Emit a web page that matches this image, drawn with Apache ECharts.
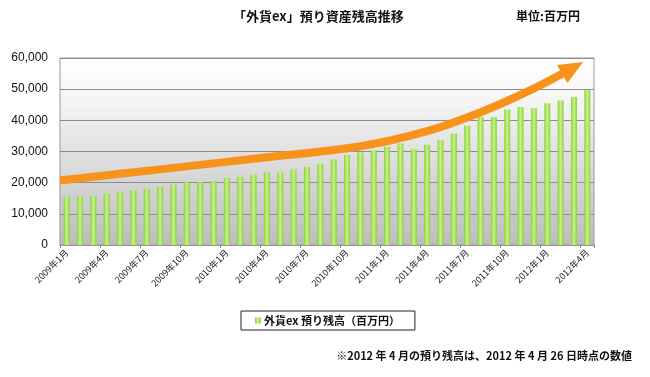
<!DOCTYPE html>
<html>
<head>
<meta charset="utf-8">
<script src="https://cdn.jsdelivr.net/npm/echarts@6/dist/echarts.min.js"></script>
<style>
  html, body { margin: 0; padding: 0; background: #fff; }
  #main { width: 650px; height: 377px; }
</style>
</head>
<body>
<div id="main"></div>
<script>
// 月次カテゴリ
const months = [
  "2009年1月", "2009年2月", "2009年3月", "2009年4月", "2009年5月", "2009年6月",
  "2009年7月", "2009年8月", "2009年9月", "2009年10月", "2009年11月", "2009年12月",
  "2010年1月", "2010年2月", "2010年3月", "2010年4月", "2010年5月", "2010年6月",
  "2010年7月", "2010年8月", "2010年9月", "2010年10月", "2010年11月", "2010年12月",
  "2011年1月", "2011年2月", "2011年3月", "2011年4月", "2011年5月", "2011年6月",
  "2011年7月", "2011年8月", "2011年9月", "2011年10月", "2011年11月", "2011年12月",
  "2012年1月", "2012年2月", "2012年3月", "2012年4月",
];

// 預り残高（百万円）
const balance = [
  15500, 15800, 15800, 16500, 16900, 17600, 17900, 18700, 19400, 20100, 20100, 20500,
  21600, 21900, 22600, 23300, 23300, 24300, 25100, 26100, 27500, 28900, 29700, 30400,
  31500, 32600, 30700, 32200, 33600, 35800, 38300, 41100, 41100, 43500, 44300, 43900,
  45500, 46400, 47500, 49800,
];

// 矢印（カテゴリ位置, 値）
const arrowX = [-0.5, 7.5, 14.5, 22.0, 27.2, 31.0, 34.7, 37.9];
const arrowY = [20700, 24500, 27900, 31700, 36800, 42600, 49600, 56800];

const yTicks = [0, 10000, 20000, 30000, 40000, 50000, 60000];

const seriesName = "外貨ex 預り残高（百万円）";
const font = "'Liberation Sans', 'Noto Sans CJK JP', sans-serif";
const jpFont = "'Noto Sans CJK JP', 'Liberation Sans', sans-serif";

const arrowData = arrowX.map((x, i) => {
  if (i === arrowX.length - 1) {
    return {
      value: [x, arrowY[i]],
      symbol: "triangle",
      symbolSize: [21, 24],
      symbolRotate: -60,
    };
  }
  return { value: [x, arrowY[i]], symbol: "none" };
});

const chart = echarts.init(document.getElementById("main"));

const option = {
  animation: false,
  backgroundColor: "#fff",
  graphic: [
    {
      type: "text",
      left: 233,
      top: 10,
      style: {
        text: "「外貨ex」預り資産残高推移",
        font: "bold 13px " + jpFont,
        fill: "#111",
      },
    },
    {
      type: "text",
      left: 516,
      top: 10,
      style: {
        text: "単位:百万円",
        font: "bold 12px " + jpFont,
        fill: "#111",
      },
    },
    {
      type: "text",
      right: 18,
      top: 350,
      style: {
        text: "※2012 年 4 月の預り残高は、2012 年 4 月 26 日時点の数値",
        font: "bold 11px " + jpFont,
        fill: "#111",
      },
    },
  ],
  legend: {
    data: [{ name: seriesName, icon: "rect" }],
    left: 241,
    top: 311,
    itemWidth: 6,
    itemHeight: 6,
    itemGap: 4,
    padding: [4, 15, 4, 14],
    borderColor: "#222",
    borderWidth: 1,
    textStyle: {
      fontFamily: jpFont,
      fontSize: 11,
      fontWeight: "bold",
      color: "#111",
      padding: [0, 0, 0, -2],
    },
  },
  grid: {
    left: 60,
    right: 56,
    top: 58,
    bottom: 132,
    show: true,
    borderColor: "#999",
    borderWidth: 1,
    backgroundColor: new echarts.graphic.LinearGradient(0, 0, 0, 1, [
      { offset: 0, color: "#ffffff" },
      { offset: 0.2, color: "#f7f7f7" },
      { offset: 1, color: "#bcbcbc" },
    ]),
  },
  xAxis: [
    {
      type: "category",
      data: months,
      boundaryGap: true,
      axisLine: { lineStyle: { color: "#999" } },
      axisTick: { show: true, interval: 2, length: 3, lineStyle: { color: "#888" } },
      axisLabel: {
        interval: 2,
        rotate: 45,
        fontSize: 9,
        fontFamily: jpFont,
        color: "#222",
        margin: 6,
      },
    },
    {
      type: "value",
      min: -0.5,
      max: 39.5,
      show: false,
    },
  ],
  yAxis: {
    type: "value",
    min: yTicks[0],
    max: yTicks[yTicks.length - 1],
    interval: 10000,
    axisLine: { show: false },
    axisTick: { show: false },
    splitLine: { lineStyle: { color: "#8c8c8c", width: 1 } },
    axisLabel: {
      fontFamily: font,
      fontSize: 12,
      color: "#111",
      margin: 12,
      formatter: (v) => v.toLocaleString("en-US"),
    },
  },
  series: [
    {
      name: seriesName,
      type: "bar",
      data: balance,
      barWidth: 6,
      itemStyle: {
        color: new echarts.graphic.LinearGradient(0, 0, 1, 0, [
          { offset: 0, color: "#8cd13c" },
          { offset: 0.5, color: "#c8f28a" },
          { offset: 1, color: "#8cd13c" },
        ]),
      },
    },
    {
      name: "arrow",
      type: "line",
      xAxisIndex: 1,
      data: arrowData,
      smooth: 0.35,
      showSymbol: true,
      lineStyle: { color: "#f7931a", width: 8, cap: "butt" },
      itemStyle: { color: "#f7931a" },
      z: 5,
    },
  ],
};

chart.setOption(option);
</script>
</body>
</html>
